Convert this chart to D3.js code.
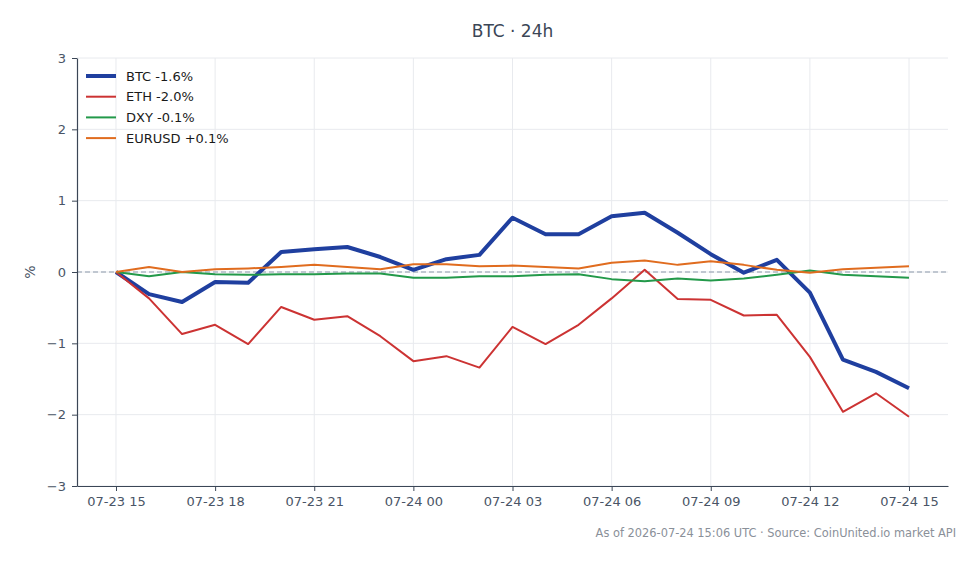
<!DOCTYPE html>
<html>
<head>
<meta charset="utf-8">
<script src="https://cdn.jsdelivr.net/npm/d3@7"></script>
<style>
  body { margin: 0; background: #fff; }
  svg { font-family: "DejaVu Sans", sans-serif; }
</style>
</head>
<body>
<div id="chart"></div>
<script>
// chart size, same as the window
const width = 980;
const height = 564;
const margin = {left: 77, right: 32, top: 58, bottom: 78};

// hourly timestamps, 07-23 15:00 to 07-24 15:00 UTC
const startTime = Date.UTC(2026, 6, 23, 15);
const hours = d3.range(25).map(i => new Date(startTime + i * 3600e3));

// % change since start
const btc = [0, -0.31, -0.42, -0.14, -0.15, 0.28, 0.32, 0.35, 0.21, 0.03, 0.18, 0.24, 0.76,
  0.53, 0.53, 0.78, 0.83, 0.55, 0.25, -0.01, 0.17, -0.29, -1.23, -1.40, -1.63];
const eth = [0, -0.37, -0.87, -0.74, -1.01, -0.49, -0.67, -0.62, -0.90, -1.25, -1.18, -1.34, -0.77,
  -1.01, -0.74, -0.37, 0.03, -0.38, -0.39, -0.61, -0.60, -1.19, -1.96, -1.70, -2.03];
const dxy = [0, -0.06, 0.0, -0.03, -0.04, -0.03, -0.03, -0.02, -0.02, -0.08, -0.08, -0.06, -0.06,
  -0.04, -0.03, -0.10, -0.13, -0.09, -0.12, -0.09, -0.04, 0.02, -0.04, -0.06, -0.08];
const eurusd = [0, 0.07, 0.0, 0.04, 0.05, 0.07, 0.10, 0.07, 0.04, 0.11, 0.11, 0.08, 0.09,
  0.07, 0.05, 0.13, 0.16, 0.10, 0.15, 0.10, 0.03, -0.01, 0.04, 0.06, 0.08];

const seriesNames = ["BTC", "ETH", "DXY", "EURUSD"];
const seriesValues = [btc, eth, dxy, eurusd];
const seriesColors = ["#1f3f9f", "#cc3333", "#23994a", "#e06c1f"];
const seriesWidths = [4, 2, 2, 2];

const yTicks = [-3, -2, -1, 0, 1, 2, 3];
const xTicks = d3.range(0, 25, 3).map(i => hours[i]);

const svg = d3.select("#chart")
  .append("svg")
  .attr("width", width)
  .attr("height", height);

// a little room either side of the first and last hour
const pad = 1.18 * 3600e3;
const xScale = d3.scaleUtc()
  .domain([+hours[0] - pad, +hours[24] + pad])
  .range([margin.left, width - margin.right]);

const yScale = d3.scaleLinear()
  .domain([-3, 3])
  .range([height - margin.bottom, margin.top]);

// grid lines
svg.append("g")
  .selectAll("line")
  .data(xTicks)
  .enter()
  .append("line")
    .attr("x1", d => xScale(d)).attr("x2", d => xScale(d))
    .attr("y1", margin.top).attr("y2", height - margin.bottom)
    .attr("stroke", "#e8eaee").attr("stroke-width", 1);

svg.append("g")
  .selectAll("line")
  .data(yTicks)
  .enter()
  .append("line")
    .attr("x1", margin.left).attr("x2", width - margin.right)
    .attr("y1", d => yScale(d)).attr("y2", d => yScale(d))
    .attr("stroke", "#e8eaee").attr("stroke-width", 1);

// dashed zero line
svg.append("line")
  .attr("x1", margin.left).attr("x2", width - margin.right)
  .attr("y1", yScale(0)).attr("y2", yScale(0))
  .attr("stroke", "#8d99aa")
  .attr("stroke-width", 1)
  .attr("stroke-dasharray", "5,3");

// axes
const fmt = d3.utcFormat("%m-%d %H");
const xAxis = svg.append("g")
  .attr("transform", `translate(0,${height - margin.bottom})`)
  .call(d3.axisBottom(xScale).tickValues(xTicks).tickFormat(fmt).tickSize(5).tickPadding(6).tickSizeOuter(0));

const yAxis = svg.append("g")
  .attr("transform", `translate(${margin.left},0)`)
  .call(d3.axisLeft(yScale).tickValues(yTicks).tickFormat(d => d < 0 ? "\u2212" + Math.abs(d) : d).tickSize(5).tickPadding(6).tickSizeOuter(0));

[xAxis, yAxis].forEach(ax => {
  ax.attr("font-size", "13px").attr("font-family", "DejaVu Sans, sans-serif");
  ax.select(".domain").attr("stroke", "#3b4656").attr("stroke-width", 1.2);
  ax.selectAll(".tick line").attr("stroke", "#3b4656");
  ax.selectAll(".tick text").attr("fill", "#4a5566");
});

// lines
const line = d3.line()
  .x((d, i) => xScale(hours[i]))
  .y(d => yScale(d));

svg.append("g")
  .selectAll("path")
  .data(seriesValues)
  .enter()
  .append("path")
    .attr("d", d => line(d))
    .attr("fill", "none")
    .attr("stroke", (d, i) => seriesColors[i])
    .attr("stroke-width", (d, i) => seriesWidths[i])
    .attr("stroke-linejoin", "round");

// legend
const legend = svg.append("g").attr("transform", "translate(86,76)");
const rows = legend.selectAll("g")
  .data(seriesNames)
  .enter()
  .append("g")
    .attr("transform", (d, i) => `translate(0,${i * 20.7})`);

rows.append("line")
  .attr("x1", 0).attr("x2", 30)
  .attr("stroke", (d, i) => seriesColors[i])
  .attr("stroke-width", (d, i) => seriesWidths[i]);

rows.append("text")
  .attr("x", 40).attr("dy", "0.35em")
  .attr("font-size", "13px")
  .attr("fill", "#1a1a1a")
  .text((d, i) => {
    const last = seriesValues[i][seriesValues[i].length - 1];
    return d + " " + (last >= 0 ? "+" : "") + last.toFixed(1) + "%";
  });

// title, y label, footer
svg.append("text")
  .attr("x", (margin.left + width - margin.right) / 2)
  .attr("y", 37)
  .attr("text-anchor", "middle")
  .attr("font-size", "17px")
  .attr("fill", "#3b4656")
  .text("BTC \u00b7 24h");

svg.append("text")
  .attr("transform", `translate(35,${yScale(0)}) rotate(-90)`)
  .attr("text-anchor", "middle")
  .attr("font-size", "14px")
  .attr("fill", "#4a5566")
  .text("%");

svg.append("text")
  .attr("x", 956)
  .attr("y", 537)
  .attr("text-anchor", "end")
  .attr("font-size", "11.4px")
  .attr("fill", "#8a9099")
  .text("As of 2026-07-24 15:06 UTC \u00b7 Source: CoinUnited.io market API");
</script>
</body>
</html>
